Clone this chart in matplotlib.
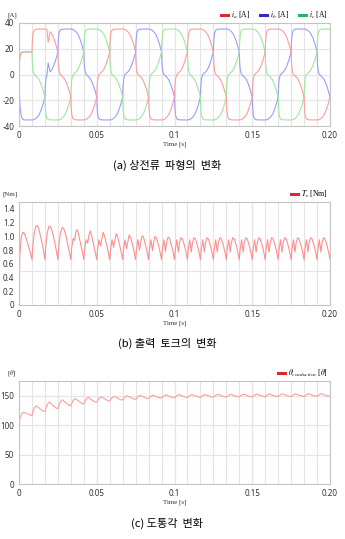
import numpy as np
import matplotlib
matplotlib.use("Agg")
import matplotlib.pyplot as plt
from matplotlib.lines import Line2D

plt.rcParams['mathtext.fontset'] = 'stix'

DT = 0.2 / 24          # commutation interval = vertical grid spacing [s]
N_INT = 24

# ---------------- (a) phase currents [A] ----------------
cur_knots = [0, 0.03, 0.08, 0.15, 0.25, 0.4, 0.55, 0.7, 0.85, 0.95]
cur_shapes = {
    'S+': [0, 9, 14, 16.5, 17.3, 17.5, 17.5, 17.5, 17.5, 17.5],
    'S-': [0, -14, -25, -31, -34.5, -35.2, -35.3, -35.3, -35.3, -35.3],
    'H+': [17.5, 26, 31.5, 34, 35, 35.2, 35.3, 35.3, 35.3, 35.3],
    'H-': [-17.5, -26, -31.5, -34, -35, -35.2, -35.3, -35.3, -35.3, -35.3],
    'D+': [35.3, 35.3, 35.2, 35.0, 34.5, 33.2, 31.2, 27.8, 23.2, 19.6],
    'D-': [-35.3, -35.3, -35.2, -35.0, -34.5, -33.2, -31.2, -27.8, -23.2, -19.6],
    'C-': [17.5, 9, 3.4, 0.7, -0.8, -2, -4, -7.5, -12, -15.5],
    'C+': [-17.5, -9, -3.4, -0.7, 0.8, 2, 4, 7.5, 12, 15.5],
    'Dg': [35.3, 35.3, 35.2, 35.0, 25.0, 33.2, 31.2, 27.8, 23.2, 19.6],
    'Cg': [-17.5, -9, -3.4, -0.7, 9.0, 2, 4, 7.5, 12, 15.5],
}
ia_seq = ['S+', 'H+', 'Dg', 'C-', 'H-', 'D-'] + ['C+', 'H+', 'D+', 'C-', 'H-', 'D-'] * 3
ib_seq = ['S-', 'D-', 'Cg', 'H+', 'D+', 'C-'] + ['H-', 'D-', 'C+', 'H+', 'D+', 'C-'] * 3
ic_seq = ['S+', 'C-', 'H-', 'D-', 'C+', 'H+'] + ['D+', 'C-', 'H-', 'D-', 'C+', 'H+'] * 3
ia_end, ib_end, ic_end = -17.5, -17.5, 35.3

# ---------------- (b) torque [Nm] ----------------
tq_knots = [0, 0.06, 0.18, 0.3, 0.38, 0.5, 0.62, 0.78, 0.9]
te_rows = [
    [0.05, 0.72, 1.00, 1.06, 1.05, 1.00, 0.93, 0.82, 0.74],
    [0.66, 0.84, 1.05, 1.15, 1.16, 1.12, 1.04, 0.90, 0.78],
    [0.66, 0.84, 1.05, 1.14, 1.15, 1.11, 1.03, 0.89, 0.77],
    [0.66, 0.83, 1.03, 1.12, 1.13, 1.09, 1.01, 0.87, 0.76],
    [0.66, 0.82, 0.97, 0.94, 1.06, 1.10, 1.01, 0.87, 0.76],
    [0.66, 0.81, 0.95, 0.90, 1.00, 1.08, 1.00, 0.86, 0.76],
    [0.66, 0.81, 0.95, 0.86, 0.95, 1.06, 0.99, 0.86, 0.76],
    [0.66, 0.80, 0.95, 0.84, 0.92, 1.04, 0.99, 0.86, 0.76],
    [0.66, 0.80, 0.95, 0.82, 0.90, 1.02, 0.98, 0.86, 0.76],
    [0.66, 0.80, 0.95, 0.80, 0.90, 1.01, 0.98, 0.86, 0.76],
    [0.66, 0.80, 0.95, 0.79, 0.90, 1.00, 0.97, 0.86, 0.76],
    [0.66, 0.80, 0.95, 0.78, 0.90, 0.99, 0.97, 0.86, 0.76],
] + [[0.66, 0.80, 0.95, 0.77, 0.90, 0.98, 0.96, 0.86, 0.76]] * 12
te_end = 0.66

# ---------------- (c) conduction angle ----------------
th_knots = [0, 0.05, 0.2, 0.35, 0.6, 0.85]
th_rows = [
    [55, 110, 119, 122, 120, 117.5],
    [116, 121, 130, 133, 128, 124],
    [123, 127, 136, 139, 134, 129.5],
    [128, 131, 140, 143, 138, 134],
    [133, 136, 143, 145, 141, 137],
    [136, 139, 145, 147, 143, 139.5],
    [139, 141, 146, 148, 145, 141.5],
    [141, 143, 147, 149, 146, 143],
    [143, 144, 148, 150, 147, 144.5],
    [144, 145, 149, 150.5, 148, 145.5],
    [145, 146, 149.5, 151, 148.5, 146.5],
    [146, 147, 150, 151.5, 149, 147],
    [146.5, 147.5, 150.5, 152, 149.5, 147.5],
    [147, 148, 150.5, 152, 149.5, 148],
    [147, 148, 151, 152, 150, 148],
    [147.5, 148.5, 151, 152.5, 150, 148.5],
    [147.5, 148.5, 151, 152.5, 150, 148.5],
    [148, 149, 151.5, 152.5, 150.5, 148.5],
    [148, 149, 151.5, 153, 150.5, 149],
    [148, 149, 151.5, 153, 150.5, 149],
    [148.5, 149.5, 152, 153, 151, 149],
    [148.5, 149.5, 152, 153, 151, 149.5],
    [148.5, 149.5, 152, 153.5, 151, 149.5],
    [149, 150, 152, 153.5, 151, 149.5],
]
th_end = 149

x_ticks = [0, 0.05, 0.1, 0.15, 0.2]
x_ticklabels = ['0', '0.05', '0.1', '0.15', '0.20']


def from_codes(seq, end_val):
    t, v = [], []
    for k, code in enumerate(seq):
        for f, val in zip(cur_knots, cur_shapes[code]):
            t.append((k + f) * DT)
            v.append(val)
    t.append(N_INT * DT)
    v.append(end_val)
    return np.array(t), np.array(v)


def from_rows(rows, knots, end_val):
    t, v = [], []
    for k, row in enumerate(rows):
        for f, val in zip(knots, row):
            t.append((k + f) * DT)
            v.append(val)
    t.append(N_INT * DT)
    v.append(end_val)
    return np.array(t), np.array(v)


W, H = 345, 539
fig = plt.figure(figsize=(W / 100, H / 100), dpi=100)

TICK_FONT = 'Noto Sans'
SERIF = 'Liberation Serif'
GRID_C = '#e4e4e4'
SPINE_C = '#c4c4c4'


def make_ax(top_px, bottom_px):
    ax = fig.add_axes([19 / W, 1 - bottom_px / H, 311 / W, (bottom_px - top_px) / H])
    for s in ax.spines.values():
        s.set_color(SPINE_C)
        s.set_linewidth(0.8)
    ax.set_xlim(0, 0.2)
    ax.set_xticks(x_ticks)
    ax.set_xticklabels(x_ticklabels)
    ax.set_xticks([k * DT for k in range(1, N_INT)], minor=True)
    ax.xaxis.remove_overlapping_locs = False
    ax.tick_params(which='both', length=0, labelsize=5.8, colors='#333333', pad=3.4)
    ax.tick_params(which='minor', labelbottom=False)
    ax.grid(True, which='both', axis='x', color=GRID_C, lw=0.8)
    ax.set_axisbelow(True)
    ax.set_xlabel('Time [s]', fontsize=5, family=SERIF, labelpad=1.6, color='#333333')
    return ax


# ---- panel (a)
ax1 = make_ax(23, 126)
for seq, end, col in [(ib_seq, ib_end, '#9c9cff'), (ic_seq, ic_end, '#9be99b'), (ia_seq, ia_end, '#ff9c9c')]:
    t, v = from_codes(seq, end)
    ax1.plot(t, v, color=col, lw=0.8)
ax1.set_ylim(-40, 40)
ax1.set_yticks([40, 20, 0, -20, -40])
ax1.set_yticklabels(['40', '20', '0', '-20', '-40'])
ax1.grid(True, which='major', axis='y', color=GRID_C, lw=0.8)
for lab in ax1.get_xticklabels() + ax1.get_yticklabels():
    lab.set_fontfamily(TICK_FONT)
h = [Line2D([], [], color=c, lw=2.2) for c in ['#d92b2b', '#2b2bc8', '#2bb35a']]
ax1.legend(h, [r'$i_a$ [A]', r'$i_b$ [A]', r'$i_c$ [A]'], ncol=3, loc='lower right',
           bbox_to_anchor=(1.0, 1.0), frameon=False, handlelength=0.9,
           handletextpad=0.4, columnspacing=1.3, borderaxespad=0.15, borderpad=0.1,
           prop={'family': SERIF, 'size': 5.5})
fig.text(12 / W, 1 - 15 / H, '[A]', fontsize=5, family=SERIF, ha='center', va='center', color='#333333')

# ---- panel (b)
ax2 = make_ax(202, 305)
t, v = from_rows(te_rows, tq_knots, te_end)
ax2.plot(t, v, color='#ff8e8e', lw=0.8)
ax2.set_ylim(0, 1.5)
ax2.set_yticks([0, 0.2, 0.4, 0.6, 0.8, 1.0, 1.2, 1.4])
ax2.set_yticklabels(['0', '0.2', '0.4', '0.6', '0.8', '1.0', '1.2', '1.4'])
ax2.set_yticks([0.5, 1.0], minor=True)
ax2.grid(True, which='minor', axis='y', color=GRID_C, lw=0.8)
for lab in ax2.get_xticklabels() + ax2.get_yticklabels():
    lab.set_fontfamily(TICK_FONT)
ax2.legend([Line2D([], [], color='#d92b2b', lw=2.2)], [r'$T_e$ [Nm]'], loc='lower right',
           bbox_to_anchor=(1.0, 1.0), frameon=False, handlelength=0.9, handletextpad=0.4,
           borderaxespad=0.15, borderpad=0.1, prop={'family': SERIF, 'size': 5.5})
fig.text(10 / W, 1 - 194 / H, '[Nm]', fontsize=5, family=SERIF, ha='center', va='center', color='#333333')

# ---- panel (c)
ax3 = make_ax(381, 484)
t, v = from_rows(th_rows, th_knots, th_end)
ax3.plot(t, v, color='#ff9c9c', lw=0.8)
ax3.set_ylim(0, 175)
ax3.set_yticks([0, 50, 100, 150])
ax3.set_yticklabels(['0', '50', '100', '150'])
ax3.grid(True, which='major', axis='y', color=GRID_C, lw=0.8)
for lab in ax3.get_xticklabels() + ax3.get_yticklabels():
    lab.set_fontfamily(TICK_FONT)
ax3.legend([Line2D([], [], color='#d92b2b', lw=2.2)], [r'$\theta_{conduction}$ [$\theta$]'],
           loc='lower right', bbox_to_anchor=(1.0, 1.0), frameon=False, handlelength=0.9,
           handletextpad=0.4, borderaxespad=0.15, borderpad=0.1, prop={'family': SERIF, 'size': 5.5})
fig.text(12 / W, 1 - 373 / H, r'[$\theta$]', fontsize=5, family=SERIF, ha='center', va='center', color='#333333')

# ---- captions
KR = ['Noto Sans CJK KR', 'DejaVu Sans']
for y, txt in [(165, '(a) 상전류  파형의  변화'), (343, '(b) 출력  토크의  변화'), (523, '(c) 도통각  변화')]:
    fig.text(167 / W, 1 - y / H, txt, fontsize=8, family=KR, ha='center', va='center', color='black')

fig.savefig('out.png', dpi=100)
